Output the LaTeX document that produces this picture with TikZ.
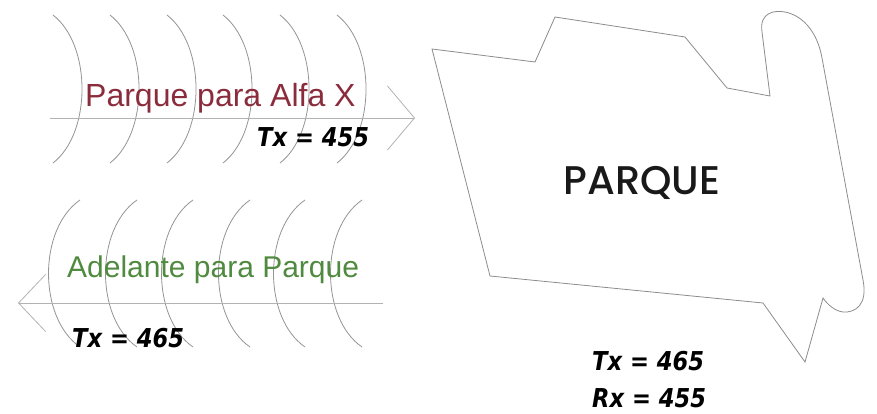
\documentclass[tikz,border=0pt]{standalone}
\usepackage{fontspec}
\usetikzlibrary{arrows.meta}
\newfontfamily\arialf{Liberation Sans}
\newfontfamily\poppf{Poppins}[UprightFont=* Medium]
\newfontfamily\brushf{DejaVu Sans}[FakeStretch=0.87]
\definecolor{parkred}{HTML}{8B2C3C}
\definecolor{parkgreen}{HTML}{4F8A3F}
\begin{document}
\begin{tikzpicture}[x=1pt,y=-1pt,
  arcline/.style={draw=black!42,line width=0.8pt},
  arrowline/.style={draw=black!30,line width=0.8pt},
  outline/.style={draw=black!45,line width=0.8pt},
  lbl/.style={inner sep=0pt,anchor=base west},
  brushtxt/.style={lbl,font=\brushf\bfseries\itshape\fontsize{26}{29}\selectfont,text=black},
]
\useasboundingbox (0,0) rectangle (877,414);
% top group of arcs
\foreach \x in {53,110,167,223,280,337}{
  \draw[arcline] (\x,15) .. controls (\x+38.7,45) and (\x+38.7,133) .. (\x,163);
}
% bottom group of arcs
\foreach \x in {80,137,193,250,305,362}{
  \draw[arcline] (\x,200) .. controls (\x-42,229) and (\x-42,318) .. (\x,347);
}
% arrows
\coordinate (a1s) at (50,118);
\coordinate (a1e) at (415,118);
\coordinate (a2s) at (383,303);
\coordinate (a2e) at (18,303);
\draw[arrowline,-{Straight Barb[length=27pt,width=64pt]}] (a1s) -- (a1e);
\draw[arrowline,-{Straight Barb[length=27pt,width=57pt]}] (a2s) -- (a2e);
% park outline
\draw[outline] (432,49) -- (535,62) -- (555,17) -- (685,37) -- (727,88) -- (770,96)
  -- (762,32) .. controls (759,12) and (775,10) .. (785,12)
  .. controls (805,16) and (818,35) .. (822,58)
  -- (863,280) .. controls (868,305) and (855,313) .. (843,312)
  .. controls (835,311) and (828,305) .. (823,298)
  -- (805,362) -- (763,303) -- (490,276) -- cycle;
% texts
\node[lbl,font=\arialf\fontsize{32}{36}\selectfont,text=parkred] (t1) at (85,107) {Parque para Alfa X};
\node[brushtxt] (v1) at (257,147) {Tx = 455};
\node[lbl,font=\arialf\fontsize{30}{34}\selectfont,text=parkgreen] (t2) at (67,277) {Adelante para Parque};
\node[brushtxt] (v2) at (72,347) {Tx = 465};
\node[font=\poppf\fontsize{40}{44}\selectfont,text=black!90,inner sep=0pt] (park) at (642,182.5) {PARQUE};
\node[brushtxt] (v3) at (592,370) {Tx = 465};
\node[brushtxt] (v4) at (592,407) {Rx = 455};
\end{tikzpicture}
\end{document}
